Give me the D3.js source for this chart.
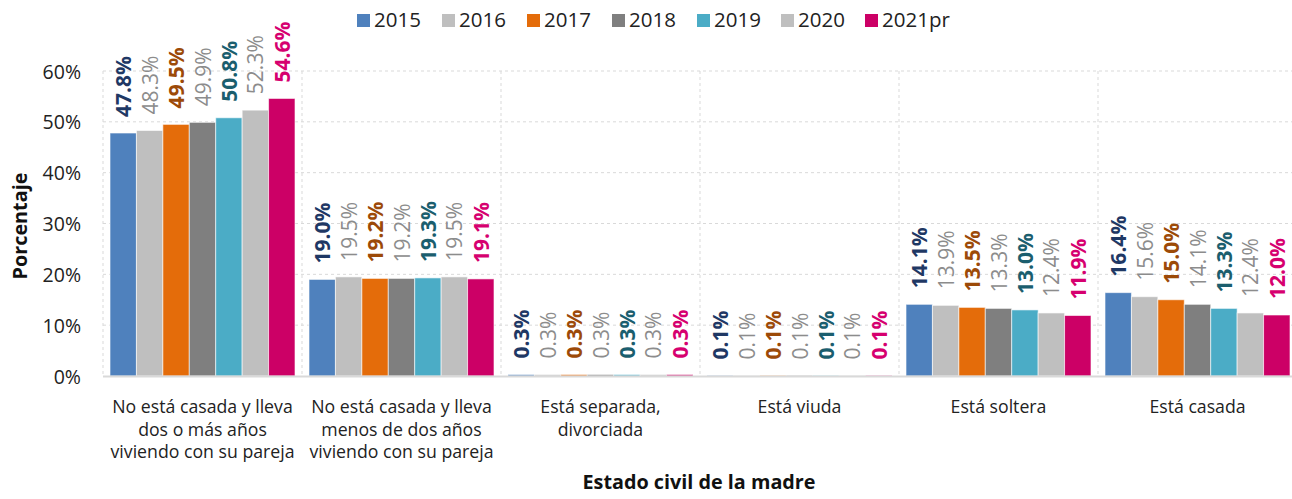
<!DOCTYPE html>
<html>
<head>
<meta charset="utf-8">
<script src="https://cdn.jsdelivr.net/npm/d3@7"></script>
<style>
  body { margin: 0; background: #fff; }
  text { font-family: "Open Sans", "Noto Sans", sans-serif; }
</style>
</head>
<body>
<div id="chart"></div>
<script>
var categories = [
    ["No está casada y lleva", "dos o más años", "viviendo con su pareja"],
    ["No está casada y lleva", "menos de dos años", "viviendo con su pareja"],
    ["Está separada,", "divorciada"],
    ["Está viuda"],
    ["Está soltera"],
    ["Está casada"]
];
var years = ["2015", "2016", "2017", "2018", "2019", "2020", "2021pr"];
var barColors = ["#4F81BD", "#BFBFBF", "#E46C0A", "#7F7F7F", "#4BACC6", "#BFBFBF", "#CC0066"];
var labelColors = ["#1F3864", "#8C8C8C", "#9C4A08", "#8C8C8C", "#1B5E6E", "#8C8C8C", "#D6006F"];
var labelBold = [true, false, true, false, true, false, true];

var v2015 = [47.8, 19.0, 0.3, 0.1, 14.1, 16.4];
var v2016 = [48.3, 19.5, 0.3, 0.1, 13.9, 15.6];
var v2017 = [49.5, 19.2, 0.3, 0.1, 13.5, 15.0];
var v2018 = [49.9, 19.2, 0.3, 0.1, 13.3, 14.1];
var v2019 = [50.8, 19.3, 0.3, 0.1, 13.0, 13.3];
var v2020 = [52.3, 19.5, 0.3, 0.1, 12.4, 12.4];
var v2021 = [54.6, 19.1, 0.3, 0.1, 11.9, 12.0];
var series = [v2015, v2016, v2017, v2018, v2019, v2020, v2021];

var yTicks = [0, 10, 20, 30, 40, 50, 60];

var width = 1292, height = 499;
var margin = { left: 103, right: 1297, top: 71, bottom: 376 };

var svg = d3.select("#chart").append("svg")
    .attr("width", width)
    .attr("height", height);

var x0 = d3.scaleBand()
    .domain(d3.range(categories.length))
    .range([margin.left, margin.right]);

var x1 = d3.scaleBand()
    .domain(d3.range(years.length))
    .range([7, x0.bandwidth() - 7]);

var y = d3.scaleLinear()
    .domain([0, 60])
    .range([margin.bottom, margin.top]);

// gridlines
svg.append("g").selectAll("line")
    .data(yTicks.slice(1))
    .enter().append("line")
    .attr("x1", margin.left).attr("x2", margin.right)
    .attr("y1", function (d) { return y(d); })
    .attr("y2", function (d) { return y(d); })
    .attr("stroke", "#d9d9d9")
    .attr("stroke-dasharray", "3,3");

svg.append("g").selectAll("line")
    .data(d3.range(categories.length + 1))
    .enter().append("line")
    .attr("x1", function (d) { return margin.left + d * x0.bandwidth(); })
    .attr("x2", function (d) { return margin.left + d * x0.bandwidth(); })
    .attr("y1", y(60)).attr("y2", y(0))
    .attr("stroke", "#d9d9d9")
    .attr("stroke-dasharray", "3,3");

// y axis labels
var yAxis = svg.append("g")
    .attr("transform", "translate(" + margin.left + ",0)")
    .call(d3.axisLeft(y).tickValues(yTicks).tickSize(0).tickPadding(22)
        .tickFormat(function (d) { return d + "%"; }));
yAxis.select(".domain").remove();
yAxis.selectAll("text")
    .attr("font-size", 19.5)
    .attr("fill", "#222")
    .attr("dy", "0.36em")
    .style("font-family", "'Open Sans', sans-serif");

// bars
var groups = svg.append("g").selectAll("g")
    .data(categories)
    .enter().append("g")
    .attr("transform", function (d, i) { return "translate(" + x0(i) + ",0)"; });

function rowData(d, i) {
    return series.map(function (s, k) { return { k: k, v: s[i] }; });
}

groups.selectAll("rect")
    .data(rowData)
    .enter().append("rect")
    .attr("x", function (d) { return x1(d.k); })
    .attr("width", x1.bandwidth())
    .attr("y", function (d) { return y(d.v); })
    .attr("height", function (d) { return y(0) - y(d.v); })
    .attr("fill", function (d) { return barColors[d.k]; })
    .attr("stroke", "#fff")
    .attr("stroke-opacity", 0.6)
    .attr("stroke-width", 1);

groups.selectAll("text")
    .data(rowData)
    .enter().append("text")
    .attr("transform", function (d) {
        var cx = x1(d.k) + x1.bandwidth() / 2 + 8;
        return "translate(" + cx + "," + (y(d.v) - 16) + ") rotate(-90)";
    })
    .attr("font-size", 21)
    .attr("font-weight", function (d) { return labelBold[d.k] ? "bold" : "normal"; })
    .attr("fill", function (d) { return labelColors[d.k]; })
    .text(function (d) { return d.v.toFixed(1) + "%"; });

// x axis line
svg.append("line")
    .attr("x1", margin.left).attr("x2", margin.right)
    .attr("y1", y(0) + 0.5).attr("y2", y(0) + 0.5)
    .attr("stroke", "#d9d9d9")
    .attr("stroke-width", 2);

// category labels
var catText = svg.append("g").selectAll("text")
    .data(categories)
    .enter().append("text")
    .attr("x", function (d, i) { return x0(i) + x0.bandwidth() / 2; })
    .attr("y", 413)
    .attr("text-anchor", "middle")
    .attr("font-size", 17.7)
    .attr("fill", "#222");
catText.selectAll("tspan")
    .data(function (d) { return d; })
    .enter().append("tspan")
    .attr("x", function () { return d3.select(this.parentNode).attr("x"); })
    .attr("dy", function (d, i) { return i === 0 ? 0 : 22.5; })
    .text(function (d) { return d; });

// axis titles
svg.append("text")
    .attr("x", 699).attr("y", 489)
    .attr("text-anchor", "middle")
    .attr("font-size", 19.8)
    .attr("font-weight", "bold")
    .attr("fill", "#111")
    .text("Estado civil de la madre");

svg.append("text")
    .attr("transform", "translate(27,226) rotate(-90)")
    .attr("text-anchor", "middle")
    .attr("font-size", 19.8)
    .attr("font-weight", "bold")
    .attr("fill", "#111")
    .text("Porcentaje");

// legend
var legendX = [357, 442, 527, 612, 697, 781, 865];
var legend = svg.append("g").selectAll("g")
    .data(years)
    .enter().append("g")
    .attr("transform", function (d, i) { return "translate(" + legendX[i] + ",0)"; });
legend.append("rect")
    .attr("y", 14)
    .attr("width", 13).attr("height", 13)
    .attr("fill", function (d, i) { return barColors[i]; });
legend.append("text")
    .attr("x", 17).attr("y", 27)
    .attr("font-size", 20.5)
    .attr("fill", "#222")
    .text(function (d) { return d; });
</script>
</body>
</html>
